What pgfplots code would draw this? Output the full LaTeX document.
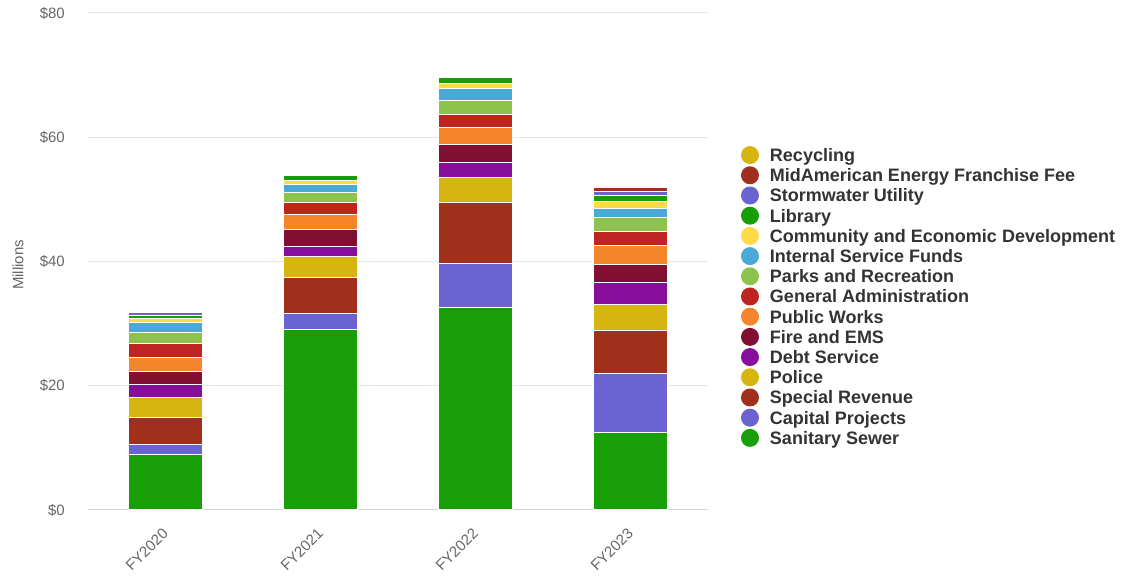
\documentclass[border=0pt]{standalone}
\usepackage{pgfplots}
\pgfplotsset{compat=1.18}
\usepackage{fontspec}
\setmainfont{Liberation Sans}
\definecolor{cGreen}{HTML}{189F07}
\definecolor{cLilac}{HTML}{6C63D3}
\definecolor{cBrown}{HTML}{A0301C}
\definecolor{cMustard}{HTML}{D6B511}
\definecolor{cPurple}{HTML}{860E9A}
\definecolor{cMaroon}{HTML}{810F32}
\definecolor{cOrange}{HTML}{F4852B}
\definecolor{cRed}{HTML}{BE2421}
\definecolor{cLgreen}{HTML}{8DC34C}
\definecolor{cBlue}{HTML}{4AA9D7}
\definecolor{cYellow}{HTML}{FED948}
\definecolor{cGrid}{HTML}{E6E6E6}
\definecolor{cAxis}{HTML}{CCD6EB}
\definecolor{c666}{HTML}{666666}
\definecolor{c333}{HTML}{333333}
\begin{document}
\begin{tikzpicture}
\useasboundingbox (0,0) rectangle (1127pt,577pt);
\begin{axis}[
  at={(88pt,67pt)}, anchor=south west,
  scale only axis, width=620pt, height=497pt,
  ybar stacked, bar width=0.48,
  xmin=-0.5, xmax=3.5, ymin=0, ymax=80,
  xtick={0,1,2,3}, xticklabels={FY2020,FY2021,FY2022,FY2023},
  ytick={20,40,60,80}, yticklabels={\$20,\$40,\$60,\$80},
  extra y ticks={0}, extra y tick labels={\$0},
  extra y tick style={grid style={color=cAxis, line width=1pt}},
  ymajorgrids, grid style={color=cGrid, line width=1pt},
  axis line style={draw=none}, major tick length=0pt,
  tick label style={font=\fontsize{15}{18}\selectfont, text=c666},
  xticklabel style={rotate=45, anchor=east, inner sep=0pt},
  xticklabel shift=21pt,
  yticklabel style={anchor=east, inner sep=0pt},
  yticklabel shift=23pt,
  ylabel={Millions},
  ylabel style={at={(axis description cs:-0.113,0.493)}, anchor=center, font=\fontsize{15}{18}\selectfont, text=c666},
  reverse legend,
  legend style={at={(1.0532,0.4296)}, anchor=west, draw=none, fill=none, inner sep=0pt, outer sep=0pt,
    font=\fontsize{18}{20}\selectfont\bfseries, text=c333, row sep=0pt,
    cells={anchor=west},
    nodes={inner sep=0pt, text height=16.5pt, text depth=3.7pt},
    /tikz/every odd column/.append style={column sep=11pt}},
  legend image code/.code={\fill[#1,draw=none] (9pt,0pt) circle (9pt);},
]
\addplot[fill=cGreen, draw=white, line width=1pt] coordinates {(0,8.9) (1,29.1) (2,32.6) (3,12.4)};
\addlegendentry{Sanitary Sewer}
\addplot[fill=cLilac, draw=white, line width=1pt] coordinates {(0,1.6) (1,2.5) (2,7.0) (3,9.5)};
\addlegendentry{Capital Projects}
\addplot[fill=cBrown, draw=white, line width=1pt] coordinates {(0,4.4) (1,5.8) (2,9.9) (3,7.0)};
\addlegendentry{Special Revenue}
\addplot[fill=cMustard, draw=white, line width=1pt] coordinates {(0,3.2) (1,3.4) (2,4.1) (3,4.2)};
\addlegendentry{Police}
\addplot[fill=cPurple, draw=white, line width=1pt] coordinates {(0,2.1) (1,1.65) (2,2.35) (3,3.5)};
\addlegendentry{Debt Service}
\addplot[fill=cMaroon, draw=white, line width=1pt] coordinates {(0,2.15) (1,2.7) (2,2.95) (3,2.9)};
\addlegendentry{Fire and EMS}
\addplot[fill=cOrange, draw=white, line width=1pt] coordinates {(0,2.2) (1,2.4) (2,2.6) (3,3.0)};
\addlegendentry{Public Works}
\addplot[fill=cRed, draw=white, line width=1pt] coordinates {(0,2.2) (1,1.9) (2,2.2) (3,2.4)};
\addlegendentry{General Administration}
\addplot[fill=cLgreen, draw=white, line width=1pt] coordinates {(0,1.9) (1,1.7) (2,2.2) (3,2.15)};
\addlegendentry{Parks and Recreation}
\addplot[fill=cBlue, draw=white, line width=1pt] coordinates {(0,1.45) (1,1.25) (2,1.9) (3,1.45)};
\addlegendentry{Internal Service Funds}
\addplot[fill=cYellow, draw=white, line width=1pt] coordinates {(0,0.7) (1,0.7) (2,0.8) (3,1.2)};
\addlegendentry{Community and Economic Development}
\addplot[fill=cGreen, draw=white, line width=1pt] coordinates {(0,0.5) (1,0.8) (2,1.0) (3,0.94)};
\addlegendentry{Library}
\addplot[fill=cLilac, draw=white, line width=1pt] coordinates {(0,0.55) (1,0) (2,0) (3,0.66)};
\addlegendentry{Stormwater Utility}
\addplot[fill=cBrown, draw=white, line width=1pt] coordinates {(0,0) (1,0) (2,0) (3,0.63)};
\addlegendentry{MidAmerican Energy Franchise Fee}
\addplot[fill=cMustard, draw=white, line width=1pt] coordinates {(0,0) (1,0) (2,0) (3,0)};
\addlegendentry{Recycling}
\end{axis}
\end{tikzpicture}
\end{document}
